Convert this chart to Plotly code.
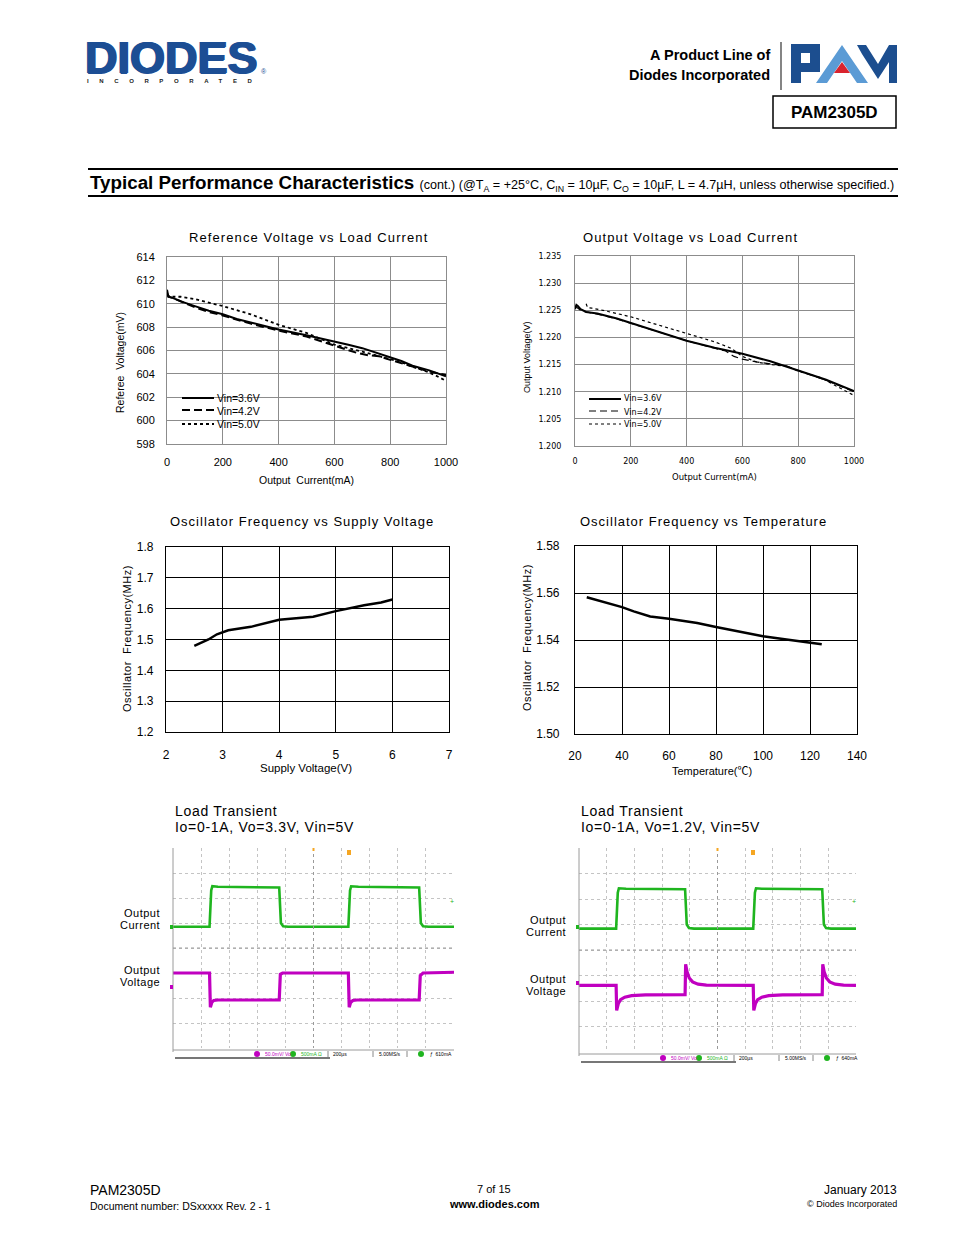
import plotly.graph_objects as go

W, H = 954, 1235
def fx(x): return x / W
def fy(y): return 1 - y / H

# ---------------- data ----------------
# Reference Voltage vs Load Current
ref_i_36 = [0, 2, 5, 20, 50, 100, 150, 200, 250, 300, 400, 500, 600, 650, 700, 750, 800, 840, 880, 940, 1000]
ref_v_36 = [611.2, 610.8, 610.6, 610.5, 610.2, 609.8, 609.4, 609.1, 608.7, 608.4, 607.8, 607.3, 606.8, 606.5, 606.2, 605.8, 605.4, 605.1, 604.7, 604.3, 603.8]
ref_i_42 = [0, 5, 20, 50, 100, 150, 200, 300, 400, 500, 540, 600, 640, 680, 720, 760, 800, 840, 880, 940, 1000]
ref_v_42 = [610.9, 610.6, 610.5, 610.2, 609.7, 609.3, 609.0, 608.3, 607.7, 607.2, 606.9, 606.4, 606.1, 605.8, 605.6, 605.5, 605.2, 604.9, 604.6, 604.2, 603.9]
ref_i_50 = [0, 5, 20, 50, 100, 150, 200, 300, 400, 500, 540, 600, 700, 800, 840, 880, 920, 960, 1000]
ref_v_50 = [610.8, 610.7, 610.6, 610.6, 610.4, 610.1, 609.8, 609.1, 608.2, 607.5, 607.1, 606.5, 605.9, 605.3, 605.0, 604.6, 604.3, 603.9, 603.4]

# Output Voltage vs Load Current
out_i_36 = [0, 5, 10, 20, 40, 80, 150, 200, 300, 400, 500, 600, 700, 800, 900, 1000]
out_v_36 = [1.2252, 1.2260, 1.2258, 1.2252, 1.2247, 1.2244, 1.2235, 1.2227, 1.2211, 1.2194, 1.2181, 1.2170, 1.2156, 1.2139, 1.2122, 1.2101]
out_i_42 = [0, 5, 20, 40, 80, 150, 200, 300, 400, 500, 540, 570, 600, 650, 700, 760, 800, 900, 1000]
out_v_42 = [1.2258, 1.2256, 1.2250, 1.2247, 1.2243, 1.2234, 1.2226, 1.2210, 1.2194, 1.2180, 1.2175, 1.2165, 1.2160, 1.2155, 1.2151, 1.2147, 1.2139, 1.2121, 1.2100]
out_i_50 = [40, 45, 60, 100, 200, 300, 400, 500, 560, 600, 650, 700, 760, 800, 880, 960, 1000]
out_v_50 = [1.2262, 1.2255, 1.2254, 1.2250, 1.2238, 1.2223, 1.2208, 1.2192, 1.2180, 1.2165, 1.2155, 1.2150, 1.2147, 1.2138, 1.2126, 1.2103, 1.2093]

# Oscillator Frequency vs Supply Voltage
osc_vin = [2.5, 2.75, 2.9, 3.1, 3.5, 4.0, 4.6, 5.0, 5.5, 5.8, 6.0]
osc_f_vin = [1.479, 1.500, 1.517, 1.530, 1.541, 1.564, 1.574, 1.592, 1.611, 1.620, 1.630]

# Oscillator Frequency vs Temperature
osc_temp = [25, 40, 45, 52, 60, 72, 80, 92, 100, 110, 125]
osc_f_temp = [1.5582, 1.5540, 1.5522, 1.5500, 1.5490, 1.5472, 1.5455, 1.5430, 1.5416, 1.5402, 1.5382]

# Load transient scope traces (screen divisions: time 200us/div)
lt1_t_i = [0, 1.30, 1.36, 1.40, 1.6, 3.78, 3.84, 3.92, 4.1, 6.24, 6.30, 6.34, 6.6, 8.76, 8.82, 8.90, 9.1, 10]
lt1_i = [0.85, 0.85, 2.30, 2.47, 2.45, 2.42, 1.00, 0.87, 0.85, 0.85, 2.30, 2.47, 2.45, 2.42, 1.00, 0.87, 0.85, 0.85]
lt1_t_v = [0, 1.30, 1.33, 1.38, 1.45, 1.6, 3.78, 3.82, 3.9, 6.24, 6.27, 6.32, 6.4, 6.55, 8.76, 8.80, 8.9, 10]
lt1_v = [-1.00, -1.00, -2.37, -2.18, -2.10, -2.08, -2.08, -1.05, -1.00, -1.00, -2.37, -2.18, -2.10, -2.08, -2.08, -1.10, -1.00, -0.97]

lt2_t_i = [0, 1.34, 1.40, 1.44, 1.7, 3.83, 3.89, 3.97, 4.15, 6.29, 6.35, 6.39, 6.6, 8.78, 8.84, 8.92, 9.1, 10]
lt2_i = [0.84, 0.84, 2.25, 2.42, 2.40, 2.38, 1.00, 0.86, 0.84, 0.84, 2.25, 2.42, 2.40, 2.38, 1.00, 0.86, 0.84, 0.84]
lt2_t_v = [0, 1.34, 1.36, 1.42, 1.50, 1.65, 1.90, 2.40, 3.83, 3.85, 3.90, 3.98, 4.10, 4.30, 4.60,
           6.29, 6.31, 6.37, 6.45, 6.60, 6.85, 7.35, 8.78, 8.80, 8.85, 8.93, 9.05, 9.25, 9.55, 10]
lt2_v = [-1.39, -1.39, -2.37, -2.10, -1.95, -1.85, -1.79, -1.76, -1.75, -0.56, -0.85, -1.10, -1.25, -1.34, -1.38,
         -1.39, -2.37, -2.10, -1.95, -1.85, -1.79, -1.76, -1.75, -0.56, -0.85, -1.10, -1.25, -1.34, -1.38, -1.39]

SANS = "Liberation Sans, Arial, sans-serif"
WIDE = "DejaVu Sans, Noto Sans CJK SC, sans-serif"
NARROW = "Liberation Sans Narrow, Arial Narrow, Liberation Sans, Arial, sans-serif"

def spaced(s, px):
    return f"<span style='letter-spacing:{px}px'>{s}</span>"

fig = go.Figure()
layout = dict(template="none", width=W, height=H, autosize=False,
              margin=dict(l=0, r=0, t=0, b=0, pad=0, autoexpand=False),
              paper_bgcolor="white", plot_bgcolor="white", showlegend=False)
annotations = []
shapes = []

def txt(x, y, s, size, color="black", family=SANS, xanchor="center", yanchor="middle", angle=0,
        shadow=None, height=None):
    f = dict(size=size, color=color, family=family)
    if shadow:
        f["shadow"] = shadow
    a = dict(x=fx(x), y=fy(y), xref="paper", yref="paper", text=s, showarrow=False,
             xanchor=xanchor, yanchor=yanchor, textangle=angle, font=f)
    if height:
        a["height"] = height
        a["valign"] = "middle"
        a["borderpad"] = 0
    annotations.append(a)

def line(x0, y0, x1, y1, color="black", width=1, dash="solid"):
    shapes.append(dict(type="line", xref="paper", yref="paper", x0=fx(x0), y0=fy(y0), x1=fx(x1), y1=fy(y1),
                       line=dict(color=color, width=width, dash=dash)))

def rect(x0, y0, x1, y1, fill=None, color="black", width=1):
    shapes.append(dict(type="rect", xref="paper", yref="paper", x0=fx(x0), y0=fy(y1), x1=fx(x1), y1=fy(y0),
                       fillcolor=fill if fill else "rgba(0,0,0,0)", line=dict(color=color, width=width)))

def poly(pts, fill):
    p = "M " + " L ".join(f"{fx(a):.5f},{fy(b):.5f}" for a, b in pts) + " Z"
    shapes.append(dict(type="path", xref="paper", yref="paper", path=p, fillcolor=fill, line=dict(width=0)))

def circle(cx, cy, r, fill):
    shapes.append(dict(type="circle", xref="paper", yref="paper", x0=fx(cx - r), x1=fx(cx + r),
                       y0=fy(cy + r), y1=fy(cy - r), fillcolor=fill, line=dict(width=0)))

def axes(n, x0, x1, y0, y1, xr, yr, xdt, ydt, grid, border, gw, bw, tfont, yfmt=None,
         xstand=8, ystand=8, labels=True, griddash="solid"):
    sx = "" if n == 1 else str(n)
    common = dict(showgrid=True, gridcolor=grid, gridwidth=gw, griddash=griddash,
                  showline=bw > 0, linecolor=border, linewidth=max(bw, 0.1), mirror=True,
                  zeroline=False, ticks="", showticklabels=labels, tickfont=tfont,
                  automargin=False, fixedrange=True)
    layout["xaxis" + sx] = dict(domain=[fx(x0), fx(x1)], range=xr, dtick=xdt, tick0=xr[0], anchor="y" + sx,
                                ticklabelstandoff=xstand, **common)
    ya = dict(domain=[fy(y1), fy(y0)], range=yr, dtick=ydt, tick0=yr[0], anchor="x" + sx,
              ticklabelstandoff=ystand, **common)
    if yfmt:
        ya["tickformat"] = yfmt
    layout["yaxis" + sx] = ya
    return "x" + sx, "y" + sx

# ---------------- header ----------------
BLUE = "#1c4e94"
txt(84, 57, "<b>DIODES</b>", 45, color=BLUE, family=SANS, xanchor="left",
    shadow=f"1px 0px 0px {BLUE}, -1px 0px 0px {BLUE}, 0px 1px 0px {BLUE}", height=40)
txt(264, 72, "®", 7, color=BLUE)
txt(85, 81, "<b>" + spaced("INCORPORATED", 10.6) + "</b>", 6, color="#222222", xanchor="left")

txt(772, 55, "<b>A Product Line of</b>", 14.5, xanchor="right")
txt(772, 75, "<b>Diodes Incorporated</b>", 14.5, xanchor="right")
line(781, 42, 781, 90, color="#333333", width=1.2)
# PAM logo
poly([(791, 44), (820, 44), (820, 72), (801, 72), (801, 83), (791, 83)], "#1c4e8f")
poly([(801, 53), (810, 53), (810, 63), (801, 63)], "white")
poly([(816, 83), (842, 45), (868, 83), (857, 83), (842, 61), (827, 83)], "#5b9bd5")
poly([(834, 73), (842, 62), (850, 73)], "#d9232e")
poly([(857, 45), (866, 45), (878, 64), (889, 45), (897, 45), (897, 83), (889, 83), (889, 62), (878, 79), (862, 54)], "#1c4e8f")
rect(773, 96, 896, 128, color="black", width=1.5)
txt(834, 112, "<b>PAM2305D</b>", 17)

# section title
line(88, 169, 898, 169, width=2)
line(88, 196, 898, 196, width=2)
txt(88, 183, "<b>Typical Performance Characteristics</b> <span style='font-size:12.6px'>(cont.) (@T<sub>A</sub> = +25°C, C<sub>IN</sub> = 10µF, C<sub>O</sub> = 10µF, L = 4.7µH, unless otherwise specified.)</span>",
    18.8, family=NARROW, xanchor="left")

# ---------------- chart 1 ----------------
xa, ya = axes(1, 167, 446, 257, 444, [0, 1000], [598, 614], 200, 2, "#8c8c8c", "#8c8c8c", 1, 1,
              dict(size=11, family=SANS, color="black"), xstand=8, ystand=9)
fig.add_trace(go.Scatter(x=ref_i_36, y=ref_v_36, mode="lines", line=dict(color="black", width=2), xaxis=xa, yaxis=ya))
fig.add_trace(go.Scatter(x=ref_i_42, y=ref_v_42, mode="lines", line=dict(color="black", width=2, dash="8px,4px"), xaxis=xa, yaxis=ya))
fig.add_trace(go.Scatter(x=ref_i_50, y=ref_v_50, mode="lines", line=dict(color="black", width=1.8, dash="3px,3px"), xaxis=xa, yaxis=ya))
txt(308, 237, spaced("Reference Voltage vs Load Current", 1.1), 13, family=SANS)
txt(306, 480, "Output  Current(mA)", 10.5)
txt(120, 363, "Referee  Voltage(mV)", 10.5, angle=-90)
line(182, 398, 214, 398, width=2)
line(182, 410, 214, 410, width=2, dash="8px,4px")
line(182, 424, 214, 424, width=1.8, dash="3px,3px")
txt(215, 398, "Vin=3.6V", 10.5, xanchor="left")
txt(215, 411, "Vin=4.2V", 10.5, xanchor="left")
txt(215, 424, "Vin=5.0V", 10.5, xanchor="left")

# ---------------- chart 2 ----------------
xa, ya = axes(2, 575, 854, 256, 446, [0, 1000], [1.2, 1.235], 200, 0.005, "#8c8c8c", "#8c8c8c", 1, 1,
              dict(size=8, family=WIDE, color="black"), yfmt=".3f", xstand=7, ystand=11)
fig.add_trace(go.Scatter(x=out_i_36, y=out_v_36, mode="lines", line=dict(color="black", width=2), xaxis=xa, yaxis=ya))
fig.add_trace(go.Scatter(x=out_i_42, y=out_v_42, mode="lines", line=dict(color="black", width=1.2, dash="7px,4px"), xaxis=xa, yaxis=ya))
fig.add_trace(go.Scatter(x=out_i_50, y=out_v_50, mode="lines", line=dict(color="black", width=1.2, dash="3px,3px"), xaxis=xa, yaxis=ya))
txt(690, 237, spaced("Output Voltage vs Load Current", 1.1), 13, family=SANS)
txt(714, 477, "Output Current(mA)", 8.5, family=WIDE)
txt(527, 357, "Output Voltage(V)", 9, family=NARROW, angle=-90)
line(589, 399, 621, 399, width=2)
line(589, 411, 621, 411, width=1, dash="7px,4px")
line(589, 424, 621, 424, width=1, dash="3px,3px")
txt(622, 399, "Vin=3.6V", 8, family=WIDE, xanchor="left")
txt(622, 412, "Vin=4.2V", 8, family=WIDE, xanchor="left")
txt(622, 424, "Vin=5.0V", 8, family=WIDE, xanchor="left")

# ---------------- chart 3 ----------------
xa, ya = axes(3, 166, 449, 547, 732, [2, 7], [1.2, 1.8], 1, 0.1, "black", "black", 1, 1.2,
              dict(size=12, family=SANS, color="black"), yfmt=".1f", xstand=11, ystand=9)
fig.add_trace(go.Scatter(x=osc_vin, y=osc_f_vin, mode="lines", line=dict(color="black", width=2.5), xaxis=xa, yaxis=ya))
txt(302, 521, spaced("Oscillator Frequency vs Supply Voltage", 1), 13, family=SANS)
txt(306, 768, "Supply Voltage(V)", 11.5)
txt(127, 638, spaced("Oscillator  Frequency(MHz)", 0.5), 11, angle=-90)

# ---------------- chart 4 ----------------
xa, ya = axes(4, 575, 857, 546, 734, [20, 140], [1.5, 1.58], 20, 0.02, "black", "black", 1, 1.2,
              dict(size=12, family=SANS, color="black"), yfmt=".2f", xstand=10, ystand=12)
fig.add_trace(go.Scatter(x=osc_temp, y=osc_f_temp, mode="lines", line=dict(color="black", width=2.5), xaxis=xa, yaxis=ya))
txt(703, 521, spaced("Oscillator Frequency vs Temperature", 1), 13, family=SANS)
txt(712, 771, "Temperature(℃)", 11, family=SANS + ", Noto Sans CJK SC")
txt(527, 638, spaced("Oscillator  Frequency(MHz)", 0.5), 11, angle=-90)

# ---------------- load transient scopes ----------------
GREEN = "#1fb51f"
MAG = "#c000c0"

def scope(n, x0, x1, y0, y1, ti, iv, tv, vv, title2, cur_y, vol_y, lab_x, trig_x, amp):
    xa, ya = axes(n, x0, x1, y0, y1, [0, 10], [-4, 4], 1, 1, "#c4c4c4", "#c4c4c4", 1, 0,
                  dict(size=8), labels=False, griddash="dot")
    fig.add_trace(go.Scatter(x=ti, y=iv, mode="lines", line=dict(color=GREEN, width=2.6), xaxis=xa, yaxis=ya))
    fig.add_trace(go.Scatter(x=tv, y=vv, mode="lines", line=dict(color=MAG, width=3.2), xaxis=xa, yaxis=ya))
    cx = (x0 + x1) / 2
    cy = (y0 + y1) / 2
    line(x0, y0, x0, y1 + 4, color="#9a9a9a", width=1)
    line(cx, y0, cx, y1, color="#9a9a9a", width=1, dash="dot")
    line(x0, cy, x1, cy, color="#9a9a9a", width=1, dash="dot")
    line(x0, y1 + 2, x1, y1 + 2, color="#9a9a9a", width=1)
    txt(x0, 811, spaced("Load Transient", 0.7), 14, family=SANS, xanchor="left")
    txt(x0, 827, spaced(title2, 0.7), 14, family=SANS, xanchor="left")
    txt(lab_x, cur_y, spaced("Output", 0.5), 11, family=SANS, xanchor="right")
    txt(lab_x, cur_y + 12, spaced("Current", 0.5), 11, family=SANS, xanchor="right")
    txt(lab_x, vol_y, spaced("Output", 0.5), 11, family=SANS, xanchor="right")
    txt(lab_x, vol_y + 12, spaced("Voltage", 0.5), 11, family=SANS, xanchor="right")
    # markers
    rect(cx - 1, y0, cx + 1, y0 + 3, fill="#f5a623", color="#f5a623", width=0)
    rect(trig_x - 2, y0 + 2, trig_x + 2, y0 + 7, fill="#f5a623", color="#f5a623", width=0)
    txt(x1 - 2, y0 + 53, "+", 7, color=GREEN)
    rect(x0 - 3, 925, x0, 929, fill=GREEN, color=GREEN, width=0)
    # status bar
    sy = y1 + 6
    circle(x0 + 84, sy, 3, MAG)
    txt(x0 + 90, sy, "50.0mV/ Vo", 5, color=MAG, xanchor="left")
    circle(x0 + 120, sy, 3, GREEN)
    txt(x0 + 126, sy, "500mA Ω", 5, color=GREEN, xanchor="left")
    line(x0 + 155, sy - 3, x0 + 155, sy + 3, color="#888888")
    txt(x0 + 158, sy, "200µs", 5, xanchor="left")
    line(x0 + 200, sy - 3, x0 + 200, sy + 3, color="#888888")
    txt(x0 + 204, sy, "5.00MS/s", 5, xanchor="left")
    line(x0 + 234, sy - 3, x0 + 234, sy + 3, color="#888888")
    circle(x0 + 248, sy, 3, GREEN)
    txt(x0 + 255, sy, "ƒ  " + amp, 5, xanchor="left")
    line(x0 + 2, sy + 4, x0 + 157, sy + 4, color="#777777", width=2)

scope(5, 173, 454, 848, 1048, lt1_t_i, lt1_i, lt1_t_v, lt1_v, "Io=0-1A, Vo=3.3V, Vin=5V", 913, 970, 162, 349, "610mA")
rect(170, 985, 173, 989, fill=MAG, color=MAG, width=0)
scope(6, 579, 856, 848, 1052, lt2_t_i, lt2_i, lt2_t_v, lt2_v, "Io=0-1A, Vo=1.2V, Vin=5V", 920, 979, 568, 753, "640mA")
rect(576, 981, 579, 985, fill=MAG, color=MAG, width=0)

# ---------------- footer ----------------
txt(88, 1190, "PAM2305D", 14, xanchor="left")
txt(88, 1206, "Document number: DSxxxxx Rev. 2 - 1", 10.5, xanchor="left")
txt(494, 1189, "7 of 15", 11)
txt(494, 1204, "<b>www.diodes.com</b>", 11)
txt(899, 1190, "January 2013", 12, xanchor="right")
txt(899, 1204, "© Diodes Incorporated", 9, xanchor="right")

layout["annotations"] = annotations
layout["shapes"] = shapes
fig.update_layout(**layout)
fig.write_html("out.html", config={"displayModeBar": False},
               post_script="document.body.style.margin='0';document.body.style.padding='0';document.documentElement.style.overflow='hidden';")
